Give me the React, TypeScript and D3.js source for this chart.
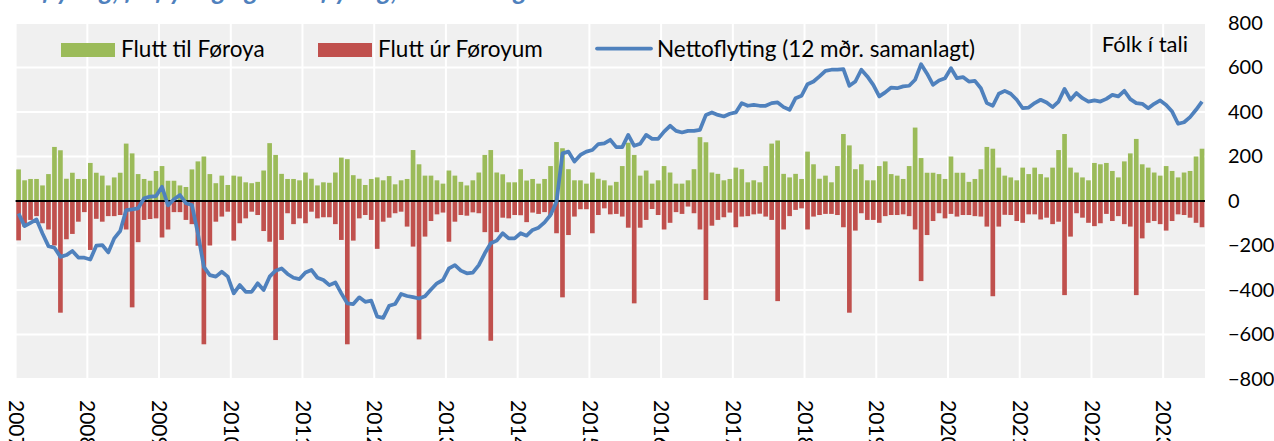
import React, { useRef, useEffect } from 'react';
import * as d3 from 'd3';

// monthly values, Jan 2007 - Jul 2023
const years = [2007, 2008, 2009, 2010, 2011, 2012, 2013, 2014, 2015, 2016, 2017, 2018, 2019, 2020, 2021, 2022, 2023];

const inflow = [
  142, 93, 99, 99, 70, 121, 243, 228, 100, 127, 99, 99,
  171, 127, 114, 70, 106, 127, 258, 214, 121, 99, 91, 135,
  157, 91, 91, 70, 63, 142, 178, 200, 121, 80, 114, 72,
  114, 110, 84, 80, 86, 137, 260, 207, 122, 99, 99, 93,
  128, 100, 70, 84, 82, 128, 195, 188, 116, 100, 72, 99,
  106, 93, 112, 75, 93, 99, 229, 165, 114, 114, 93, 78,
  137, 114, 86, 70, 93, 128, 207, 229, 128, 120, 84, 84,
  143, 92, 99, 78, 99, 157, 265, 237, 143, 93, 93, 78,
  128, 100, 93, 70, 86, 157, 262, 207, 114, 137, 78, 93,
  157, 128, 78, 78, 93, 143, 287, 264, 128, 122, 93, 99,
  150, 143, 84, 93, 84, 157, 258, 272, 122, 106, 122, 99,
  222, 165, 100, 114, 84, 157, 301, 250, 143, 165, 93, 93,
  157, 178, 121, 114, 99, 157, 330, 193, 127, 127, 121, 99,
  200, 127, 127, 86, 99, 143, 243, 235, 150, 114, 106, 93,
  150, 121, 150, 121, 106, 150, 229, 301, 150, 128, 106, 93,
  171, 165, 171, 135, 106, 178, 214, 279, 165, 150, 128, 114,
  157, 135, 106, 128, 135, 200, 235,
];

const outflow = [
  -177, -115, -85, -68, -100, -128, -200, -502, -172, -148, -93, -50,
  -220, -80, -93, -68, -68, -63, -128, -478, -185, -85, -81, -78,
  -164, -128, -50, -50, -85, -104, -201, -644, -200, -93, -70, -48,
  -178, -100, -78, -48, -63, -135, -183, -625, -175, -55, -104, -78,
  -100, -48, -78, -73, -73, -104, -175, -644, -178, -78, -63, -85,
  -215, -93, -75, -55, -48, -115, -205, -622, -160, -90, -60, -52,
  -183, -93, -63, -66, -51, -55, -140, -628, -140, -75, -78, -63,
  -64, -95, -52, -58, -50, -63, -145, -433, -153, -70, -37, -37,
  -145, -63, -33, -60, -58, -70, -120, -460, -120, -85, -36, -63,
  -128, -98, -50, -58, -25, -55, -128, -445, -111, -85, -73, -52,
  -118, -70, -68, -60, -57, -70, -85, -450, -128, -68, -40, -33,
  -128, -70, -63, -58, -58, -63, -118, -502, -133, -55, -85, -85,
  -98, -68, -63, -63, -60, -68, -128, -360, -153, -90, -55, -78,
  -58, -70, -63, -63, -68, -70, -115, -428, -115, -62, -63, -90,
  -98, -60, -60, -83, -75, -104, -93, -423, -160, -55, -75, -98,
  -113, -100, -58, -90, -68, -104, -115, -423, -168, -98, -90, -104,
  -133, -90, -60, -63, -75, -98, -118,
];

// 12 month rolling sum
const netMigration = [
  -56, -113, -98, -83, -146, -203, -210, -251, -243, -225, -254, -255,
  -263, -201, -198, -231, -168, -135, -41, -38, -33, 12, 20, 22,
  64, -20, 8, 27, -10, -18, -146, -296, -333, -340, -318, -340,
  -415, -378, -408, -408, -370, -400, -340, -313, -303, -328, -345, -351,
  -321, -310, -345, -355, -378, -366, -415, -460, -463, -433, -453, -448,
  -520, -525, -471, -463, -418, -427, -432, -438, -428, -398, -370, -355,
  -303, -288, -313, -325, -322, -288, -235, -190, -178, -145, -168, -168,
  -145, -156, -130, -120, -96, -63, -3, 214, 222, 177, 207, 222,
  229, 256, 259, 275, 242, 242, 297, 248, 257, 297, 279, 279,
  312, 338, 315, 308, 315, 315, 320, 387, 398, 387, 380, 392,
  398, 440, 428, 432, 428, 428, 440, 443, 422, 410, 462, 473,
  525, 537, 560, 585, 590, 590, 593, 518, 537, 590, 560, 522,
  470, 488, 510, 507, 515, 518, 545, 615, 572, 522, 542, 552,
  597, 552, 557, 537, 540, 507, 440, 428, 482, 495, 482, 455,
  417, 420, 440, 455, 443, 422, 447, 504, 455, 485, 462, 447,
  452, 447, 459, 477, 470, 495, 458, 440, 437, 417, 437, 452,
  432, 402, 347, 354, 377, 410, 447,
];

const yTicks = [-800, -600, -400, -200, 0, 200, 400, 600, 800];
const legendLabels = ['Flutt til Føroya', 'Flutt úr Føroyum', 'Nettoflyting (12 mðr. samanlagt)'];
const unitLabel = 'Fólk í tali';
const title = 'Tilflyting, fráflyting og nettoflyting, mánaðarlig tøl';

const colors = { in: '#9bbb59', out: '#c0504d', net: '#4f81bd' };
const font = 'Lato, "Noto Sans", sans-serif';

function Chart() {
  const chartRef = useRef(null);

  useEffect(() => {
    const svg = d3.select(chartRef.current);
    svg.selectAll('*').remove();

    const plot = { left: 15.6, right: 1205, top: 23, bottom: 379 };
    const months = d3.range(inflow.length);

    const x = d3
      .scaleBand()
      .domain(months)
      .range([plot.left, plot.right])
      .paddingInner(0.22)
      .paddingOuter(0.11);
    const xYear = d3
      .scaleLinear()
      .domain([years[0], years[0] + months.length / 12])
      .range([plot.left, plot.right]);
    const y = d3.scaleLinear().domain([-800, 800]).range([plot.bottom, plot.top]);

    // plot background + grid
    svg
      .append('rect')
      .attr('x', plot.left)
      .attr('y', plot.top)
      .attr('width', plot.right - plot.left)
      .attr('height', plot.bottom - plot.top)
      .attr('fill', '#f0f0f0');

    svg
      .append('g')
      .selectAll('line')
      .data(yTicks)
      .enter()
      .append('line')
      .attr('x1', plot.left)
      .attr('x2', plot.right)
      .attr('y1', (d) => y(d))
      .attr('y2', (d) => y(d))
      .attr('stroke', '#fff')
      .attr('stroke-width', 2);

    svg
      .append('g')
      .selectAll('line')
      .data(years)
      .enter()
      .append('line')
      .attr('x1', (d) => xYear(d))
      .attr('x2', (d) => xYear(d))
      .attr('y1', plot.top)
      .attr('y2', plot.bottom)
      .attr('stroke', '#fff')
      .attr('stroke-width', 2);

    // bars
    svg
      .append('g')
      .selectAll('rect')
      .data(inflow)
      .enter()
      .append('rect')
      .attr('x', (d, i) => x(i))
      .attr('y', (d) => y(d))
      .attr('width', x.bandwidth())
      .attr('height', (d) => y(0) - y(d))
      .attr('fill', colors.in);

    svg
      .append('g')
      .selectAll('rect')
      .data(outflow)
      .enter()
      .append('rect')
      .attr('x', (d, i) => x(i))
      .attr('y', y(0))
      .attr('width', x.bandwidth())
      .attr('height', (d) => y(d) - y(0))
      .attr('fill', colors.out);

    // zero line
    svg
      .append('line')
      .attr('x1', plot.left)
      .attr('x2', plot.right)
      .attr('y1', y(0))
      .attr('y2', y(0))
      .attr('stroke', '#000')
      .attr('stroke-width', 2);

    // net migration line
    const line = d3
      .line()
      .x((d, i) => x(i) + x.bandwidth() / 2)
      .y((d) => y(d));
    svg
      .append('path')
      .datum(netMigration)
      .attr('d', line)
      .attr('fill', 'none')
      .attr('stroke', colors.net)
      .attr('stroke-width', 3.75)
      .attr('stroke-linejoin', 'round');

    // axes
    const yAxis = d3.axisRight(y).tickValues(yTicks).tickSize(0).tickPadding(23);
    const gy = svg
      .append('g')
      .attr('transform', `translate(${plot.right},0)`)
      .call(yAxis);
    gy.select('.domain').remove();
    gy.attr('font-family', font).attr('font-size', 20);
    gy.selectAll('text').attr('fill', '#000');

    const xAxis = d3.axisBottom(xYear).tickValues(years).tickFormat(d3.format('d')).tickSize(0);
    const gx = svg
      .append('g')
      .attr('transform', `translate(0,${plot.bottom})`)
      .call(xAxis);
    gx.select('.domain').remove();
    gx.attr('font-family', font).attr('font-size', 21);
    gx.selectAll('text')
      .attr('transform', 'rotate(90)')
      .attr('text-anchor', 'start')
      .attr('x', 21)
      .attr('y', 0)
      .attr('dy', '0.35em')
      .attr('fill', '#000');

    // legend
    const legend = svg.append('g').attr('font-family', font).attr('font-size', 22.5).attr('fill', '#000');
    const items = [
      { label: legendLabels[0], type: 'rect', color: colors.in, x: 61 },
      { label: legendLabels[1], type: 'rect', color: colors.out, x: 318 },
      { label: legendLabels[2], type: 'line', color: colors.net, x: 597 },
    ];
    items.forEach((it) => {
      if (it.type === 'rect') {
        legend
          .append('rect')
          .attr('x', it.x)
          .attr('y', 43)
          .attr('width', 54)
          .attr('height', 14)
          .attr('fill', it.color);
      } else {
        legend
          .append('line')
          .attr('x1', it.x)
          .attr('x2', it.x + 54)
          .attr('y1', 48.5)
          .attr('y2', 48.5)
          .attr('stroke', it.color)
          .attr('stroke-width', 3.75)
          .attr('stroke-linecap', 'round');
      }
      legend
        .append('text')
        .attr('x', it.x + 60)
        .attr('y', 57)
        .text(it.label);
    });

    legend
      .append('text')
      .attr('x', 1188)
      .attr('y', 52)
      .attr('font-size', 22)
      .attr('text-anchor', 'end')
      .text(unitLabel);

    // title (cut off at the top, as in the original)
    svg
      .append('text')
      .attr('x', 15)
      .attr('y', 0)
      .attr('font-family', font)
      .attr('font-size', 26)
      .attr('font-weight', 'bold')
      .attr('font-style', 'italic')
      .attr('fill', colors.net)
      .text(title);
  }, []);

  return (
    <svg
      ref={chartRef}
      width={1274}
      height={441}
      style={{ position: 'absolute', left: 0, top: 0, background: '#fff' }}
    ></svg>
  );
}

export default function App() {
  return <Chart />;
}
